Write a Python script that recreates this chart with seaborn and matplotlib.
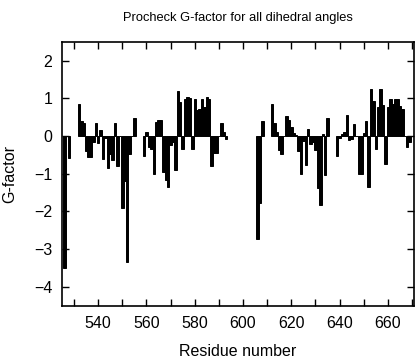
import numpy as np
import pandas as pd
from matplotlib import pyplot as plt
from matplotlib.ticker import MultipleLocator
import seaborn as sns

# G-factor per residue, split into runs of consecutive residues
seg1_start = 526
seg1 = [-3.51, 0.0, -0.58]
seg2_start = 532
seg2 = [0.84, 0.41, 0.34, -0.40, -0.56, -0.57, -0.15, 0.34, -0.18, 0.15,
        -0.62, -0.05, -0.85, -0.47, -0.64, 0.34, -0.79, 0.0, -1.90, -1.20,
        -3.35, -0.48, 0.0, 0.48]
seg3_start = 559
seg3 = [-0.53, 0.10, -0.29, -0.35, -1.01, 0.38, 0.42, 0.43, -0.95, -1.17,
        -1.36, -0.25, -0.16, -0.91, 1.19, 0.90, -0.35, 0.99, 1.03, 1.00,
        -0.34, 0.99, 0.70, 0.72, 0.99, 0.77, 1.03, 0.98, -0.80, -0.45,
        -0.45, 0.0, 0.34, 0.11, -0.08]
seg4_start = 606
seg4 = [-2.73, -1.79, 0.41]
seg5_start = 612
seg5 = [0.84, 0.34, 0.10, -0.37, -0.48, 0.0, 0.53, 0.43, 0.25, 0.08,
        0.02, -0.40, -1.02, -0.12, -0.78, 0.19, -0.22, -0.15, -0.38, -1.37,
        -1.83, 0.06, -1.04, 0.48]
seg6_start = 639
seg6 = [-0.53, -0.05, 0.06, 0.10, 0.56, -0.10, -0.09, 0.33, 0.0, -1.00,
        -1.01, 0.08, 0.40, -1.36, 1.25, 0.93, -0.35, 0.78, 1.25, 0.81,
        -0.75, 0.76, 0.99, 0.86, 0.99, 0.99, 0.79, 0.72, 0.0, -0.29,
        -0.17]

segments = [(seg1_start, seg1), (seg2_start, seg2), (seg3_start, seg3),
            (seg4_start, seg4), (seg5_start, seg5), (seg6_start, seg6)]

residues = []
gfactor = []
for start, vals in segments:
    residues += list(range(start, start + len(vals)))
    gfactor += vals

df = pd.DataFrame({"residue": residues, "gfactor": gfactor})

sns.set_style("ticks")
plt.rcParams["font.family"] = ["Liberation Sans", "DejaVu Sans"]
plt.rcParams["xtick.direction"] = "in"
plt.rcParams["ytick.direction"] = "in"
plt.rcParams["text.color"] = "black"
plt.rcParams["axes.labelcolor"] = "black"
plt.rcParams["xtick.color"] = "black"
plt.rcParams["ytick.color"] = "black"

fig = plt.figure(figsize=(4.16, 3.6), dpi=100)
ax = fig.add_axes([0.149, 0.151, 0.845, 0.733])

sns.barplot(data=df, x="residue", y="gfactor", native_scale=True, width=1.0,
            color="black", edgecolor="black", linewidth=0.7, errorbar=None,
            saturation=1, ax=ax)

ax.set_xlim(525.0, 670.6)
ax.set_ylim(-4.5, 2.5)
ax.xaxis.set_major_locator(MultipleLocator(20))
ax.xaxis.set_minor_locator(MultipleLocator(10))
ax.yaxis.set_major_locator(MultipleLocator(1))
ax.tick_params(axis="both", which="both", top=True, right=True,
               length=5, width=1, labelsize=11.5, colors="black")
ax.tick_params(axis="x", which="major", pad=7.5)
ax.tick_params(axis="y", which="major", pad=7)
for side in ax.spines.values():
    side.set_linewidth(1.2)
    side.set_color("black")

ax.set_xlabel("Residue number", fontsize=11.5, labelpad=9)
ax.set_ylabel("G-factor", fontsize=11.5, labelpad=12)
ax.set_title("Procheck G-factor for all dihedral angles", fontsize=9.3, pad=15)

fig.savefig("out.png", dpi=100)
